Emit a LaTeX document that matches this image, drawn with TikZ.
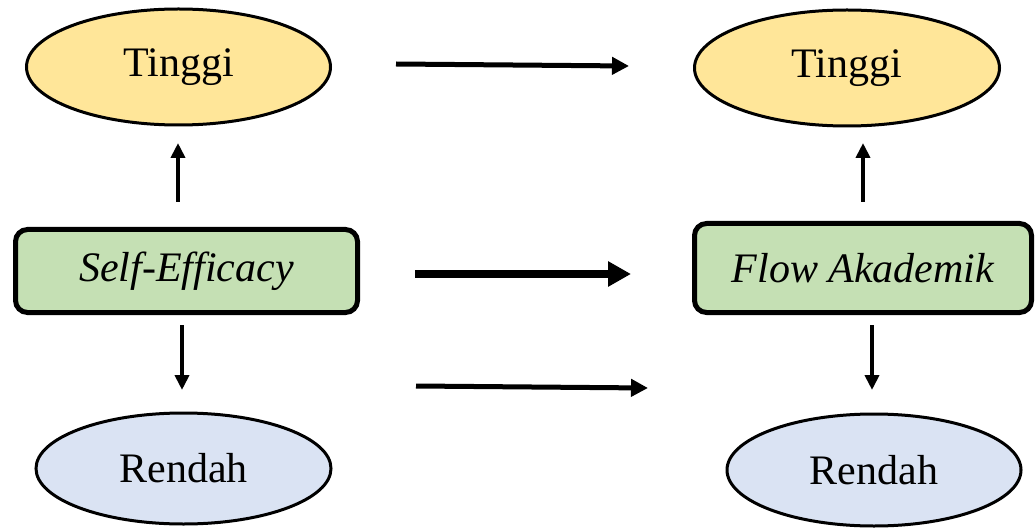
\documentclass[tikz,border=0pt]{standalone}
\usepackage{fontspec}
\setmainfont{Liberation Serif}
\usetikzlibrary{shapes.geometric,arrows.meta}
\definecolor{ylw}{HTML}{FFE699}
\definecolor{grn}{HTML}{C5E0B4}
\definecolor{blu}{HTML}{DAE3F3}
\tikzset{
  oval/.style={ellipse, draw=black, line width=3pt, inner sep=0pt, font=\fontsize{42}{50}\selectfont},
  hi/.style={oval, fill=ylw},
  lo/.style={oval, fill=blu},
  mainbox/.style={rectangle, rounded corners=12pt, draw=black, line width=5pt, fill=grn, inner sep=0pt, font=\fontsize{42}{50}\selectfont\itshape},
  harrow/.style={line width=5pt, -{Triangle[length=17pt,width=17pt]}},
  hbig/.style={line width=8pt, -{Triangle[length=23pt,width=24pt]}},
  varrow/.style={line width=4pt, -{Triangle[length=15pt,width=14pt]}}
}
\begin{document}
\begin{tikzpicture}[x=1pt,y=-1pt]
\useasboundingbox (0,0) rectangle (1035,529);
% nodes
\node[hi, minimum width=304pt, minimum height=116pt] (t1) at (178.5,67) {Tinggi};
\node[hi, minimum width=305pt, minimum height=116pt] (t2) at (847,68) {Tinggi};
\node[mainbox, minimum width=342pt, minimum height=83pt] (se) at (186.5,271) {Self-Efficacy};
\node[mainbox, minimum width=337pt, minimum height=89pt] (fa) at (863,268) {Flow Akademik};
\node[lo, minimum width=295pt, minimum height=111pt] (r1) at (183.5,468.5) {Rendah};
\node[lo, minimum width=294pt, minimum height=112pt] (r2) at (874,470) {Rendah};
% free arrow ends
\coordinate (a1s) at (396,64);
\coordinate (a1e) at (629,66);
\coordinate (a2s) at (415,274);
\coordinate (a2e) at (631,274);
\coordinate (a3s) at (416,386);
\coordinate (a3e) at (648,388);
\coordinate (u1s) at (178,202);
\coordinate (u1e) at (178,143);
\coordinate (u2s) at (863,202);
\coordinate (u2e) at (863,143);
\coordinate (d1s) at (182,325);
\coordinate (d1e) at (182,390);
\coordinate (d2s) at (872,325);
\coordinate (d2e) at (872,390);
% connectors
\draw[harrow] (a1s) -- (a1e);
\draw[hbig] (a2s) -- (a2e);
\draw[harrow] (a3s) -- (a3e);
\draw[varrow] (u1s) -- (u1e);
\draw[varrow] (u2s) -- (u2e);
\draw[varrow] (d1s) -- (d1e);
\draw[varrow] (d2s) -- (d2e);
\end{tikzpicture}
\end{document}
